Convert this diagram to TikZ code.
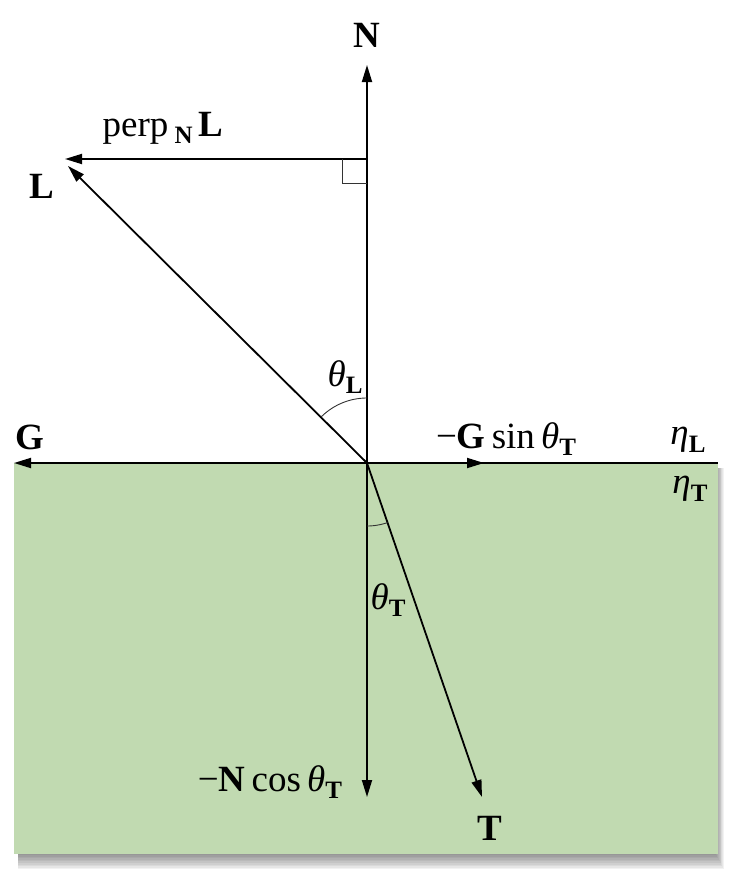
\documentclass[tikz,border=0pt]{standalone}
\usepackage{fontspec}
\setmainfont{Liberation Serif}
\usetikzlibrary{arrows.meta}
\definecolor{water}{RGB}{193,218,177}
\newcommand\lsub[1]{\raisebox{-0.45ex}{\fontsize{25}{25}\selectfont\bfseries #1}}
\begin{document}
\begin{tikzpicture}[x=1pt,y=-1pt,
  vec/.style={line width=1.8pt,-{Triangle[length=17pt,width=10pt]}},
  plain/.style={line width=1.8pt},
  lbl/.style={font=\fontsize{37}{41}\selectfont, inner sep=0pt},
  thinl/.style={line width=0.9pt, black!80}]
\useasboundingbox (0,0) rectangle (736,878);
% shadow
\foreach \i in {0,...,9}
  \fill[black,opacity=0.05] (18,468) rectangle (716+0.9*\i,855+1.6*\i);
\fill[water] (14,463) rectangle (718,854);
% points
\coordinate (O) at (367,463);
\coordinate (Ntip) at (367,65);
\coordinate (P) at (367,159);
\coordinate (Ptip) at (65,159);
\coordinate (Ltip) at (68,166);
\coordinate (Gtip) at (14,463);
\coordinate (Rend) at (718,463);
\coordinate (Stip) at (484,463);
\coordinate (Dtip) at (367,797);
\coordinate (Ttip) at (482,797);
% vectors
\draw[plain] (O) -- (Rend);
\draw[vec] (O) -- (Ntip);
\draw[vec] (P) -- (Ptip);
\draw[vec] (O) -- (Ltip);
\draw[vec] (O) -- (Gtip);
\draw[vec] (O) -- (Stip);
\draw[vec] (O) -- (Dtip);
\draw[vec] (O) -- (Ttip);
% right angle
\draw[thinl] (342,159) -- (342,183) -- (367,183);
% angle arcs
\draw[thinl,domain=90:135,smooth,variable=\t] plot ({367+65*cos(\t)},{463-65*sin(\t)});
\draw[thinl,domain=-90:-71,smooth,variable=\t] plot ({367+63*cos(\t)},{463-63*sin(\t)});
% labels
\node[lbl] (nN) at (367,35) {\textbf{N}};
\node[lbl] (nP) at (163,128) {perp\,\lsub{N}\,\textbf{L}};
\node[lbl] (nL) at (42,186) {\textbf{L}};
\node[lbl] (nthL) at (345,377) {\textit{θ}\lsub{L}};
\node[lbl] (nG) at (30,437) {\textbf{G}};
\node[lbl] (nS) at (506,439) {−\textbf{G}\,sin\,\textit{θ}\lsub{T}};
\node[lbl] (neL) at (688,440) {\textit{η}\lsub{L}};
\node[lbl] (neT) at (690,489) {\textit{η}\lsub{T}};
\node[lbl] (nthT) at (388,600) {\textit{θ}\lsub{T}};
\node[lbl] (nD) at (270,782) {−\textbf{N}\,cos\,\textit{θ}\lsub{T}};
\node[lbl] (nT) at (490,828) {\textbf{T}};
\end{tikzpicture}
\end{document}
